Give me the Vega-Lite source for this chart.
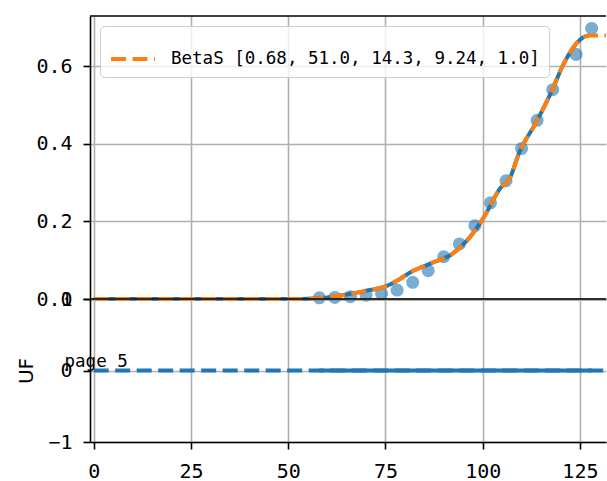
{
  "$schema": "https://vega.github.io/schema/vega-lite/v6.json",
  "padding": {"left": 16, "top": 15, "right": 0, "bottom": 0},
  "background": "white",
  "spacing": 0,
  "bounds": "flush",
  "datasets": {
    "pts": [
      {"x": 58, "y": 0.003}, {"x": 62, "y": 0.004}, {"x": 66, "y": 0.006}, {"x": 70, "y": 0.010},
      {"x": 74, "y": 0.014}, {"x": 78, "y": 0.023}, {"x": 82, "y": 0.043}, {"x": 86, "y": 0.073},
      {"x": 90, "y": 0.109}, {"x": 94, "y": 0.142}, {"x": 98, "y": 0.189}, {"x": 102, "y": 0.248},
      {"x": 106, "y": 0.305}, {"x": 110, "y": 0.388}, {"x": 114, "y": 0.461}, {"x": 118, "y": 0.540},
      {"x": 124, "y": 0.631}, {"x": 128, "y": 0.698}
    ],
    "fit": [
      {"x": 0, "y": 0}, {"x": 51, "y": 0}, {"x": 55, "y": 0.0005}, {"x": 58, "y": 0.002},
      {"x": 62, "y": 0.007}, {"x": 65.7, "y": 0.013}, {"x": 70, "y": 0.021}, {"x": 75.2, "y": 0.033},
      {"x": 78.6, "y": 0.051}, {"x": 82, "y": 0.072}, {"x": 87, "y": 0.093}, {"x": 92.3, "y": 0.117},
      {"x": 96.6, "y": 0.158}, {"x": 100, "y": 0.206}, {"x": 104.7, "y": 0.288}, {"x": 106.9, "y": 0.31},
      {"x": 109.4, "y": 0.378}, {"x": 113.7, "y": 0.455}, {"x": 117.6, "y": 0.533}, {"x": 120.6, "y": 0.602},
      {"x": 124, "y": 0.658}, {"x": 126, "y": 0.676}, {"x": 127.5, "y": 0.68}, {"x": 131.7, "y": 0.68}
    ],
    "resid": [{"x": 0, "y": 0}, {"x": 131.7, "y": 0}],
    "residData": [{"x": 58, "y": 0}, {"x": 128, "y": 0}]
  },
  "config": {
    "view": {"stroke": null},
    "axis": {
      "labelFont": "DejaVu Sans Mono", "labelFontSize": 20, "labelColor": "black",
      "tickColor": "black", "tickSize": 7, "tickWidth": 1.6,
      "domainColor": "black", "domainWidth": 1.6,
      "gridColor": "#b0b0b0", "gridWidth": 1.6, "labelOverlap": false,
      "titleFont": "DejaVu Sans", "titleFontSize": 20, "titleFontWeight": "normal", "titleColor": "black"
    },
    "legend": {
      "orient": "top-left", "offset": 10, "padding": 9,
      "strokeColor": "#cccccc", "cornerRadius": 4, "fillColor": "rgba(255,255,255,0.8)",
      "labelFont": "DejaVu Sans Mono", "labelFontSize": 17.5, "labelColor": "black",
      "labelOffset": 14, "labelLimit": 800
    }
  },
  "resolve": {"legend": {"color": "independent"}},
  "vconcat": [
    {
      "width": 516, "height": 283,
      "layer": [
        {
          "data": {"name": "pts"},
          "mark": {"type": "circle", "size": 170, "opacity": 0.6, "color": "#1f77b4"},
          "encoding": {
            "x": {"field": "x", "type": "quantitative",
                  "scale": {"domain": [-0.95, 131.7], "nice": false, "zero": false},
                  "axis": {"values": [0, 25, 50, 75, 100, 125], "labels": false, "ticks": false, "grid": true, "title": null, "minExtent": 0, "maxExtent": 0}},
            "y": {"field": "y", "type": "quantitative",
                  "scale": {"domain": [0, 0.73], "nice": false, "zero": false},
                  "axis": {"values": [0, 0.2, 0.4, 0.6], "format": ".1f", "title": null, "labelPadding": 11, "grid": true, "labelOverlap": false}}
          }
        },
        {
          "data": {"name": "fit"},
          "transform": [{"filter": "datum.x <= 127.5"}],
          "mark": {"type": "line", "color": "#1f77b4", "strokeWidth": 4, "interpolate": "monotone"},
          "encoding": {
            "x": {"field": "x", "type": "quantitative"},
            "y": {"field": "y", "type": "quantitative"}
          }
        },
        {
          "data": {"name": "fit"},
          "mark": {"type": "line", "strokeWidth": 4, "strokeDash": [15, 6.5], "interpolate": "monotone"},
          "encoding": {
            "x": {"field": "x", "type": "quantitative"},
            "y": {"field": "y", "type": "quantitative"},
            "color": {"datum": "BetaS [0.68, 51.0, 14.3, 9.24, 1.0]",
                      "scale": {"range": ["#ff7f0e"]},
                      "legend": {"title": null, "symbolType": "stroke", "symbolDash": [15, 6.5], "symbolStrokeWidth": 4, "symbolSize": 1936}}
          }
        },
        {
          "data": {"values": [{}]},
          "mark": {"type": "rule", "color": "black", "strokeWidth": 1.6},
          "encoding": {"y": {"datum": 0.73}}
        }
      ]
    },
    {
      "width": 516, "height": 143,
      "layer": [
        {
          "data": {"name": "resid"},
          "mark": {"type": "line", "color": "#1f77b4", "strokeWidth": 4, "strokeDash": [15, 6.5]},
          "encoding": {
            "x": {"field": "x", "type": "quantitative",
                  "scale": {"domain": [-0.95, 131.7], "nice": false, "zero": false},
                  "axis": {"values": [0, 25, 50, 75, 100, 125], "grid": true, "title": null, "labelPadding": 12}},
            "y": {"field": "y", "type": "quantitative",
                  "scale": {"domain": [-1, 1], "nice": false, "zero": false},
                  "axis": {"values": [-1, 0, 1], "labelExpr": "datum.value == 0 ? '0' : (datum.value < 0 ? '\u2212' + abs(datum.value) : '' + datum.value)", "title": "UF", "titlePadding": 12, "labelPadding": 11, "grid": true, "labelOverlap": false, "labelBound": false, "minExtent": 42, "maxExtent": 42}}
          }
        },
        {
          "data": {"name": "residData"},
          "mark": {"type": "line", "color": "#1f77b4", "strokeWidth": 4},
          "encoding": {
            "x": {"field": "x", "type": "quantitative"},
            "y": {"field": "y", "type": "quantitative"}
          }
        },
        {
          "data": {"values": [{}]},
          "mark": {"type": "rule", "color": "black", "strokeWidth": 1.6},
          "encoding": {"y": {"datum": 1}}
        },
        {
          "data": {"values": [{"label": "page 5"}]},
          "mark": {"type": "text", "align": "left", "baseline": "bottom", "font": "DejaVu Sans Mono", "fontSize": 17.5, "color": "black"},
          "encoding": {
            "x": {"datum": -7.5},
            "y": {"datum": 0},
            "text": {"field": "label"}
          }
        }
      ]
    }
  ]
}
